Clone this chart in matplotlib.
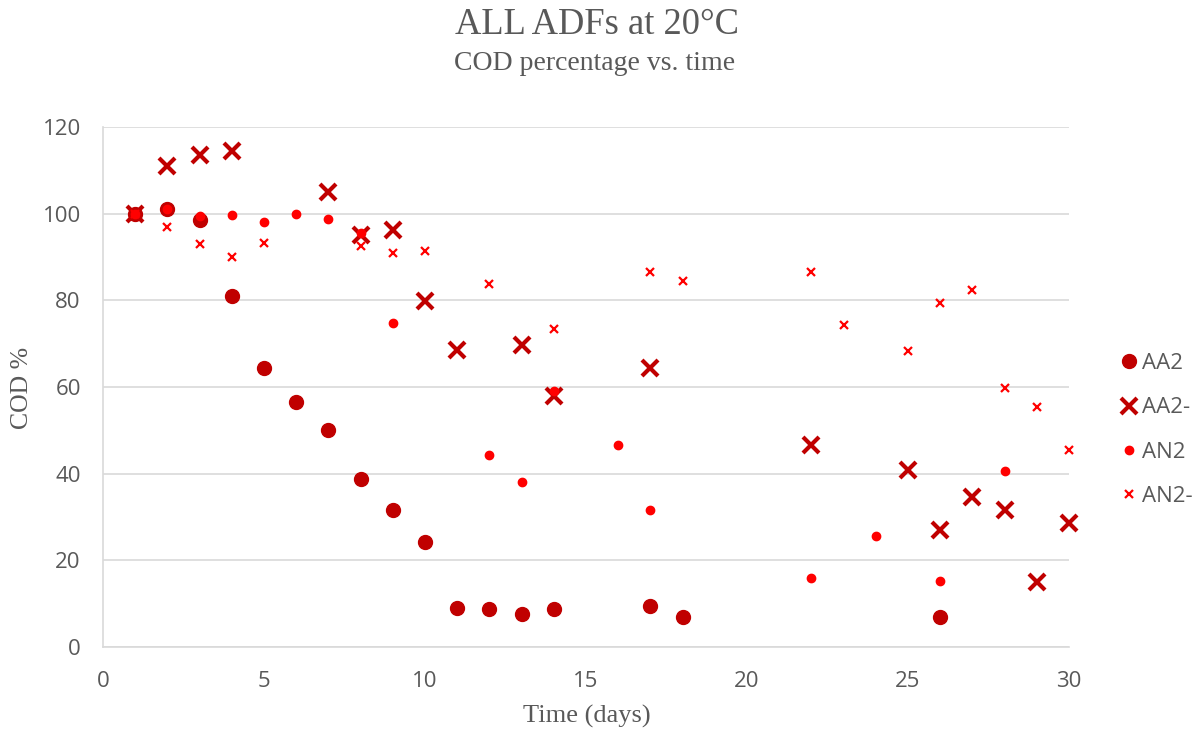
import matplotlib.pyplot as plt

# data
aa2_day = [1, 2, 3, 4, 5, 6, 7, 8, 9, 10, 11, 12, 13, 14, 17, 18, 26]
aa2_cod = [100, 101, 98.5, 81, 64.5, 56.5, 50, 38.7, 31.6, 24.2, 9, 8.8, 7.6, 8.8, 9.4, 7, 7]

aa2m_day = [1, 2, 3, 4, 7, 8, 9, 10, 11, 13, 14, 17, 22, 25, 26, 27, 28, 29, 30]
aa2m_cod = [100, 111, 113.5, 114.5, 105, 95, 96.2, 79.8, 68.5, 69.8, 58, 64.3,
            46.7, 40.8, 27, 34.7, 31.6, 15.1, 28.6]

an2_day = [1, 2, 3, 4, 5, 6, 7, 8, 9, 12, 13, 14, 16, 17, 22, 24, 26, 28]
an2_cod = [100, 101, 99.5, 99.7, 98.1, 100, 98.7, 95.5, 74.7, 44.2, 38.1, 59,
           46.6, 31.7, 15.9, 25.6, 15.3, 40.7]

an2m_day = [1, 2, 3, 4, 5, 8, 9, 10, 12, 14, 17, 18, 22, 23, 25, 26, 27, 28, 29, 30]
an2m_cod = [100, 97, 93, 90.1, 93.3, 92.5, 91, 91.5, 83.8, 73.5, 86.5, 84.4,
            86.6, 74.3, 68.4, 79.4, 82.4, 59.8, 55.4, 45.5]

dark = '#C00000'
light = '#FF0000'
grey = '#595959'

fig = plt.figure(figsize=(12.01, 7.33), dpi=100)
ax = fig.add_axes([103 / 1201, 1 - 647 / 733, (1069 - 103) / 1201, (647 - 127) / 733])

ax.plot(aa2_day, aa2_cod, 'o', color=dark, ms=10, label='AA2', clip_on=False)
ax.plot(aa2m_day, aa2m_cod, 'x', color=dark, ms=12, mew=3, label='AA2-', clip_on=False)
ax.plot(an2_day, an2_cod, 'o', color=light, ms=6, label='AN2', clip_on=False)
ax.plot(an2m_day, an2m_cod, 'x', color=light, ms=6, mew=1.6, label='AN2-', clip_on=False)

ax.set_xlim(0, 30)
ax.set_ylim(0, 120)
ax.set_xticks(range(0, 31, 5))
ax.set_yticks(range(0, 121, 20))
ax.grid(axis='y', color='#d9d9d9', lw=1.2)
ax.set_axisbelow(True)
for s in ['top', 'right']:
    ax.spines[s].set_visible(False)
for s in ['left', 'bottom']:
    ax.spines[s].set_color('#d9d9d9')
    ax.spines[s].set_linewidth(1.2)
ax.tick_params(length=0, labelsize=16, labelcolor=grey)
ax.tick_params(axis='y', pad=16)
ax.tick_params(axis='x', pad=17)
for lab in ax.get_xticklabels() + ax.get_yticklabels():
    lab.set_fontfamily('Open Sans')

ax.set_xlabel('Time (days)', fontsize=19, family='Liberation Serif', color=grey)
ax.set_ylabel('COD %', fontsize=18.5, family='Liberation Serif', color=grey)
ax.xaxis.set_label_coords(587 / 1201, 1 - 716 / 733, transform=fig.transFigure)
ax.xaxis.label.set_va('center')
ax.yaxis.set_label_coords(22 / 1201, 1 - 388 / 733, transform=fig.transFigure)
ax.yaxis.label.set_va('center')

fig.text(597 / 1201, 1 - 25 / 733, 'ALL ADFs at 20°C', ha='center', va='center',
         fontsize=26.3, family='Liberation Serif', color=grey)
fig.text(595 / 1201, 1 - 63 / 733, 'COD percentage vs. time', ha='center', va='center',
         fontsize=20, family='Liberation Serif', color=grey)

leg = ax.legend(loc='center left', bbox_to_anchor=(1118 / 1201, 1 - 430 / 733),
                bbox_transform=fig.transFigure, frameon=False, handletextpad=0.1,
                borderpad=0, borderaxespad=0, labelspacing=1.05, handlelength=1.0,
                prop={'family': 'Open Sans', 'size': 16})
for t in leg.get_texts():
    t.set_color(grey)

fig.savefig('out.png', dpi=100)
